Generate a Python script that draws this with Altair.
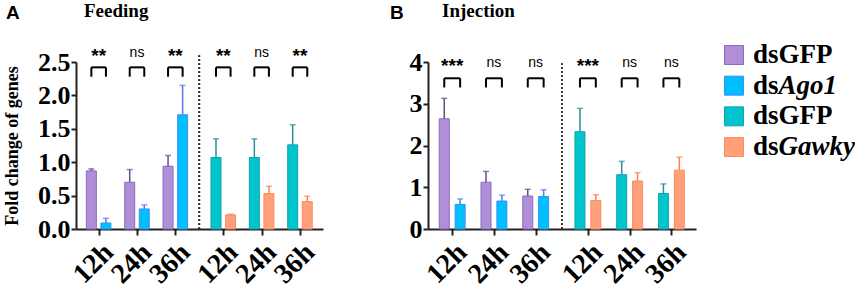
import json
import altair as alt
import pandas as pd

# ---------------- data ----------------
times = ["12h", "24h", "36h"]

feed_ctrl_ago = [0.87, 0.70, 0.94]
feed_ctrl_ago_err = [0.03, 0.19, 0.16]
feed_ago = [0.09, 0.30, 1.71]
feed_ago_err = [0.07, 0.06, 0.44]
feed_ctrl_gawky = [1.07, 1.07, 1.26]
feed_ctrl_gawky_err = [0.28, 0.28, 0.30]
feed_gawky = [0.21, 0.53, 0.41]
feed_gawky_err = [0.01, 0.11, 0.08]
feed_sig = ["**", "ns", "**", "**", "ns", "**"]

inj_ctrl_ago = [2.64, 1.12, 0.79]
inj_ctrl_ago_err = [0.49, 0.26, 0.16]
inj_ago = [0.59, 0.67, 0.78]
inj_ago_err = [0.13, 0.14, 0.16]
inj_ctrl_gawky = [2.33, 1.30, 0.85]
inj_ctrl_gawky_err = [0.56, 0.32, 0.23]
inj_gawky = [0.68, 1.15, 1.41]
inj_gawky_err = [0.14, 0.20, 0.31]
inj_sig = ["***", "ns", "ns", "***", "ns", "ns"]

legend_prefix = "ds"
legend_suffix = ["GFP", "Ago1", "GFP", "Gawky"]
legend_italic = [False, True, False, True]

# ---------------- styles ----------------
fills = ["#B08FD8", "#00BFFF", "#00C5CC", "#FFA07A"]
strokes = ["#8C6BBF", "#3F8EF5", "#14A3AB", "#FF8A5C"]
err_colors = ["#5E4E8A", "#4C7FF0", "#2A8E9A", "#FF7F50"]
SERIF = "Liberation Serif"
SANS = "Liberation Sans"
AX = "#222222"

GAP = 3.25   # offset of the second block of groups
OFF = 0.19   # half distance between paired bars
XDOM = [-0.46, 5.72]
HEIGHT = 167


def panel(ctrl_a, ctrl_a_err, a, a_err, ctrl_g, ctrl_g_err, g, g_err, sig,
          ymax, ystep, yfmt, width, letter, title, br_top, br_bot, sig_y,
          dot_top, ytitle, letter_x, title_x):
    bars = []
    groups = []
    sets = [(ctrl_a, ctrl_a_err, a, a_err), (ctrl_g, ctrl_g_err, g, g_err)]
    for h, pair in enumerate(sets):
        for t in range(3):
            center = t + GAP * h
            for k in range(2):
                vals, errs = pair[2 * k], pair[2 * k + 1]
                s = 2 * h + k
                bars.append(dict(pos=center + (2 * k - 1) * OFF, value=vals[t],
                                 top=vals[t] + errs[t], fill=fills[s],
                                 stroke=strokes[s], err=err_colors[s]))
            groups.append(dict(center=center, left=center - OFF, right=center + OFF,
                               sig=sig[3 * h + t], btop=br_top, bbot=br_bot, sy=sig_y,
                               star=sig[3 * h + t] != "ns"))
    bdf = pd.DataFrame(bars)
    gdf = pd.DataFrame(groups)

    lab_expr = ("datum.value < 3 ? %s[round(datum.value)] : %s[round(datum.value - %s)]"
                % (json.dumps(times), json.dumps(times), GAP))
    xscale = alt.Scale(domain=XDOM, nice=False, zero=False)
    xaxis = alt.Axis(values=[0, 1, 2, GAP, GAP + 1, GAP + 2], labelExpr=lab_expr,
                     labelAngle=-45, labelFont=SERIF, labelFontWeight="bold",
                     labelFontSize=28, labelColor="black", labelPadding=3,
                     labelOverlap=False, labelBound=False, labelFlush=False,
                     grid=False, domainColor=AX, domainWidth=2, tickColor=AX,
                     tickWidth=2, tickSize=6, title=None)
    yscale = alt.Scale(domain=[0, ymax], nice=False)
    ncount = int(round(ymax / ystep))
    yaxis = alt.Axis(tickCount=ncount, tickMinStep=ystep, format=yfmt,
                     labelFont=SERIF, labelFontWeight="bold",
                     labelFontSize=26, labelColor="black", labelPadding=1, grid=False,
                     labelOverlap=False, labelFlush=False, labelSeparation=0,
                     labelBound=False,
                     domainColor=AX, domainWidth=2, tickColor=AX, tickWidth=2, tickSize=5,
                     title=ytitle, titleFont=SERIF, titleFontWeight="bold",
                     titleFontSize=18, titleColor="black", titlePadding=16)

    def X(field):
        return alt.X(field, scale=xscale, axis=xaxis)

    def Y(field):
        return alt.Y(field, scale=yscale, axis=yaxis)

    base = alt.Chart(bdf)
    bar_layer = base.mark_bar(size=10, strokeWidth=1).encode(
        x=X("pos:Q"), y=Y("value:Q"),
        color=alt.Color("fill:N", scale=None),
        stroke=alt.Stroke("stroke:N", scale=None),
    )
    err_rule = base.mark_rule(strokeWidth=1.5).encode(
        x=X("pos:Q"), y=Y("value:Q"), y2="top:Q", color=alt.Color("err:N", scale=None))
    err_cap = base.mark_tick(orient="horizontal", size=6, thickness=1.5).encode(
        x=X("pos:Q"), y=Y("top:Q"), color=alt.Color("err:N", scale=None))

    gbase = alt.Chart(gdf)
    br_h = gbase.mark_rule(color="black", strokeWidth=2).encode(
        x=X("left:Q"), x2="right:Q", y=Y("btop:Q"))
    br_l = gbase.mark_rule(color="black", strokeWidth=2).encode(
        x=X("left:Q"), y=Y("bbot:Q"), y2="btop:Q")
    br_r = gbase.mark_rule(color="black", strokeWidth=2).encode(
        x=X("right:Q"), y=Y("bbot:Q"), y2="btop:Q")
    ns_txt = gbase.mark_text(font=SANS, fontSize=14, baseline="bottom",
                             color="black").encode(
        x=X("center:Q"), y=Y("sy:Q"), text="sig:N").transform_filter("!datum.star")
    star_txt = gbase.mark_text(font=SANS, fontSize=19, fontWeight="bold",
                               baseline="bottom", dy=6, color="black").encode(
        x=X("center:Q"), y=Y("sy:Q"), text="sig:N").transform_filter("datum.star")

    dotted = gbase.mark_rule(strokeDash=[1.5, 2.5], color="#333333",
                             strokeWidth=1.5).encode(
        x=alt.X(datum=(2 + GAP) / 2, scale=xscale, axis=xaxis),
        y=alt.Y(datum=0, scale=yscale, axis=yaxis), y2=alt.datum(dot_top))

    tdf = pd.DataFrame({"letter": [letter], "title": [title]})
    letter_txt = alt.Chart(tdf).mark_text(font=SANS, fontWeight="bold", fontSize=19,
                                          align="left", baseline="alphabetic",
                                          color="black").encode(
        text="letter:N", x=alt.value(letter_x), y=alt.value(-43))
    title_txt = alt.Chart(tdf).mark_text(font=SERIF, fontWeight="bold", fontSize=19,
                                         align="left", baseline="alphabetic",
                                         color="black").encode(
        text="title:N", x=alt.value(title_x), y=alt.value(-45))

    return alt.layer(bar_layer, err_rule, err_cap, br_h, br_l, br_r, ns_txt, star_txt,
                     dotted, letter_txt, title_txt).properties(width=width, height=HEIGHT)


left = panel(feed_ctrl_ago, feed_ctrl_ago_err, feed_ago, feed_ago_err,
             feed_ctrl_gawky, feed_ctrl_gawky_err, feed_gawky, feed_gawky_err, feed_sig,
             2.5, 0.5, ".1f", 247, "A", "Feeding",
             2.42, 2.28, 2.53, 2.6, "Fold change of genes", -70, 8)
right = panel(inj_ctrl_ago, inj_ctrl_ago_err, inj_ago, inj_ago_err,
              inj_ctrl_gawky, inj_ctrl_gawky_err, inj_gawky, inj_gawky_err, inj_sig,
              4, 1, "d", 268, "B", "Injection",
              3.61, 3.39, 3.8, 4.0, None, -38, 14)

# ---------------- custom legend ----------------
leg = pd.DataFrame({"order": [0, 1, 2, 3], "prefix": [legend_prefix] * 4,
                    "suffix": legend_suffix, "italic": legend_italic,
                    "fill": fills, "stroke": strokes})
lbase = alt.Chart(leg).encode(
    y=alt.Y("order:O", axis=None,
            scale=alt.Scale(type="point", padding=0, range=[-7, 85])))
sq = lbase.mark_square(size=361, strokeWidth=1, opacity=1).encode(
    x=alt.value(10), color=alt.Color("fill:N", scale=None),
    stroke=alt.Stroke("stroke:N", scale=None))
ltxt = dict(font=SERIF, fontWeight="bold", fontSize=27, align="left",
            baseline="middle", color="black")
pre = lbase.mark_text(**ltxt).encode(x=alt.value(29), text="prefix:N")
suf_n = lbase.mark_text(**ltxt).encode(x=alt.value(54.5), text="suffix:N").transform_filter(
    "!datum.italic")
suf_i = lbase.mark_text(fontStyle="italic", **ltxt).encode(
    x=alt.value(54.5), text="suffix:N").transform_filter("datum.italic")
legend = alt.layer(sq, pre, suf_n, suf_i).properties(width=130, height=HEIGHT)

chart = alt.hconcat(alt.hconcat(left, right, spacing=67), legend, spacing=26).properties(
    padding={"left": 3, "top": 2, "right": 0, "bottom": 0}
).configure_view(stroke=None).configure_axis(labelOverlap=False)

chart.save("out.html", embed_options={"renderer": "svg", "actions": False})
